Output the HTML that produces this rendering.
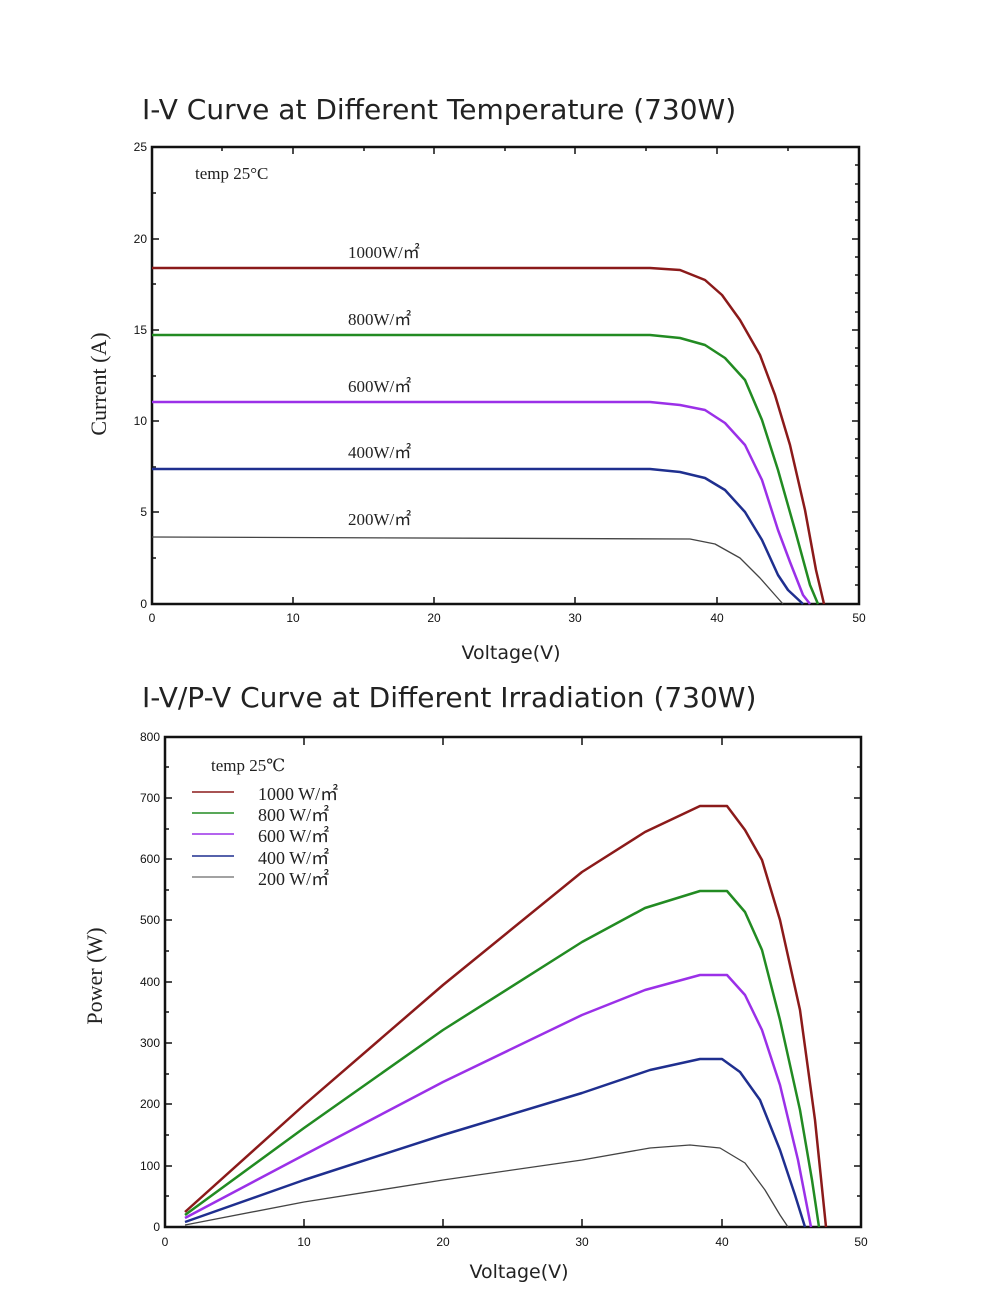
<!DOCTYPE html>
<html><head><meta charset="utf-8"><style>
body{margin:0;background:#fff}
svg{display:block}
.t{font-family:"DejaVu Sans","Liberation Sans",sans-serif;fill:#222}
.s{font-family:"Liberation Serif","DejaVu Serif",serif;fill:#222}
.k{font-family:"Liberation Sans",sans-serif;font-size:12px;fill:#111}
</style></head><body>
<svg width="1000" height="1300" viewBox="0 0 1000 1300" xmlns="http://www.w3.org/2000/svg">
<rect width="1000" height="1300" fill="#fff"/>
<!-- Chart 1 -->
<text class="t" x="142" y="119" font-size="28">I-V Curve at Different Temperature (730W)</text>
<rect x="152" y="147" width="707" height="457" fill="none" stroke="#111" stroke-width="2.5"/>
<g stroke="#111" stroke-width="1.5">
<path d="M293 604v-7M434 604v-7M575 604v-7M717 604v-7M293 147v7M434 147v7M575 147v7M717 147v7M364 147v4M505 147v4M646 147v4M788 147v4M222 147v4"/>
<path d="M152 239h7M152 330h7M152 421h7M152 512h7M859 239h-7M859 330h-7M859 421h-7M859 512h-7"/>
<path d="M859 165h-4M859 184h-4M859 202h-4M859 220h-4M859 257h-4M859 275h-4M859 293h-4M859 312h-4M859 348h-4M859 366h-4M859 385h-4M859 403h-4M859 439h-4M859 458h-4M859 476h-4M859 494h-4M859 531h-4M859 549h-4M859 567h-4M859 585h-4"/>
<path d="M152 193h4M152 284h4M152 376h4M152 467h4M152 558h4"/>
</g>
<g class="k" text-anchor="end"><text x="147" y="151">25</text><text x="147" y="243">20</text><text x="147" y="334">15</text><text x="147" y="425">10</text><text x="147" y="516">5</text><text x="147" y="608">0</text></g>
<g class="k" text-anchor="middle"><text x="152" y="622">0</text><text x="293" y="622">10</text><text x="434" y="622">20</text><text x="575" y="622">30</text><text x="717" y="622">40</text><text x="859" y="622">50</text></g>
<text class="t" x="511" y="659" font-size="19" text-anchor="middle">Voltage(V)</text>
<text class="s" font-size="22" transform="translate(106,384) rotate(-90)" text-anchor="middle">Current (A)</text>
<text class="s" x="195" y="179" font-size="17">temp  25°C</text>
<g class="s" font-size="17"><text x="348" y="258">1000W/㎡</text><text x="348" y="325">800W/㎡</text><text x="348" y="392">600W/㎡</text><text x="348" y="458">400W/㎡</text><text x="348" y="525">200W/㎡</text></g>
<g fill="none" stroke-width="2.5" stroke-linejoin="round">
<polyline stroke="#8b1a1a" points="152,268 650,268 680,270 705,280 722,295 740,320 760,355 775,395 790,445 805,510 816,570 824,604"/>
<polyline stroke="#228b22" points="152,335 650,335 680,338 705,345 725,358 745,380 762,420 778,470 795,530 810,585 818,604"/>
<polyline stroke="#9b30e8" points="152,402 650,402 680,405 705,410 725,423 745,445 762,480 778,530 790,562 803,595 810,604"/>
<polyline stroke="#1f2f8f" points="152,469 650,469 680,472 705,478 725,490 745,512 762,540 778,575 788,590 803,604"/>
<polyline stroke="#444" stroke-width="1.3" points="152,537 690,539 715,544 740,558 760,578 775,595 783,604"/>
</g>
<!-- Chart 2 -->
<text class="t" x="142" y="707" font-size="28">I-V/P-V Curve at Different Irradiation (730W)</text>
<rect x="165" y="737" width="696" height="490" fill="none" stroke="#111" stroke-width="2.5"/>
<g stroke="#111" stroke-width="1.5">
<path d="M304 1227v-8M443 1227v-8M582 1227v-8M722 1227v-8M304 737v8M443 737v8M582 737v8M722 737v8"/>
<path d="M165 798h7M165 859h7M165 920h7M165 982h7M165 1043h7M165 1104h7M165 1166h7M861 798h-7M861 859h-7M861 920h-7M861 982h-7M861 1043h-7M861 1104h-7M861 1166h-7"/>
<path d="M861 767h-4M861 829h-4M861 890h-4M861 951h-4M861 1012h-4M861 1074h-4M861 1135h-4M861 1196h-4M165 767h4M165 829h4M165 890h4M165 951h4M165 1012h4M165 1074h4M165 1135h4M165 1196h4"/>
</g>
<g class="k" text-anchor="end"><text x="160" y="741">800</text><text x="160" y="802">700</text><text x="160" y="863">600</text><text x="160" y="924">500</text><text x="160" y="986">400</text><text x="160" y="1047">300</text><text x="160" y="1108">200</text><text x="160" y="1170">100</text><text x="160" y="1231">0</text></g>
<g class="k" text-anchor="middle"><text x="165" y="1246">0</text><text x="304" y="1246">10</text><text x="443" y="1246">20</text><text x="582" y="1246">30</text><text x="722" y="1246">40</text><text x="861" y="1246">50</text></g>
<text class="t" x="519" y="1278" font-size="19" text-anchor="middle">Voltage(V)</text>
<text class="s" font-size="22" transform="translate(102,976) rotate(-90)" text-anchor="middle">Power (W)</text>
<text class="s" x="211" y="771" font-size="17">temp  25℃</text>
<g stroke-width="1.5"><path d="M192 792h42" stroke="#8b1a1a"/><path d="M192 813h42" stroke="#228b22"/><path d="M192 834h42" stroke="#9b30e8"/><path d="M192 856h42" stroke="#1f2f8f"/><path d="M192 877h42" stroke="#444" stroke-width="1"/></g>
<g class="s" font-size="18"><text x="258" y="800">1000  W/㎡</text><text x="258" y="821">800   W/㎡</text><text x="258" y="842">600   W/㎡</text><text x="258" y="864">400   W/㎡</text><text x="258" y="885">200   W/㎡</text></g>
<g fill="none" stroke-width="2.5" stroke-linejoin="round">
<polyline stroke="#8b1a1a" points="185,1212 304,1105 443,985 582,872 645,832 700,806 727,806 745,830 762,860 780,920 800,1010 815,1120 826,1227"/>
<polyline stroke="#228b22" points="185,1215 304,1128 443,1030 582,942 645,908 700,891 727,891 745,912 762,950 780,1020 800,1110 812,1180 819,1227"/>
<polyline stroke="#9b30e8" points="185,1218 304,1155 443,1082 582,1015 645,990 700,975 727,975 745,995 762,1030 780,1085 798,1160 811,1227"/>
<polyline stroke="#1f2f8f" points="185,1222 304,1180 443,1135 582,1093 650,1070 700,1059 722,1059 740,1072 760,1100 780,1150 795,1195 805,1227"/>
<polyline stroke="#444" stroke-width="1.3" points="185,1225 304,1202 443,1180 582,1160 650,1148 690,1145 720,1148 745,1163 765,1190 780,1215 788,1227"/>
</g>
</svg>
</body></html>
